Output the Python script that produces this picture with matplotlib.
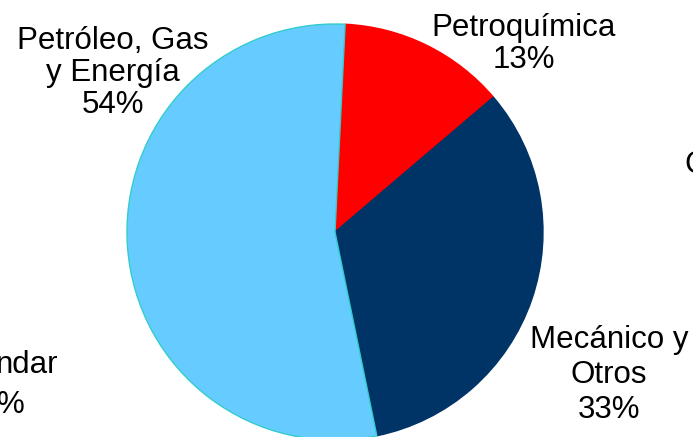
import matplotlib.pyplot as plt

# sector shares (%)
sectores = ['Petroquímica', 'Mecánico y\nOtros', 'Petróleo, Gas\ny Energía']
valores = [13, 33, 54]
colores = ['#FF0000', '#003366', '#66CCFF']
bordes = ['#FF0000', '#003366', '#33CCCC']

plt.rcParams['font.family'] = ['Liberation Sans', 'DejaVu Sans']

fig = plt.figure(figsize=(6.93, 4.37), dpi=100)
ax = fig.add_axes([0, 0, 1, 1])

wedges, _ = ax.pie(valores, colors=colores, startangle=87.2, counterclock=False,
                   center=(335, 205), radius=208, frame=True,
                   wedgeprops=dict(linewidth=1.0))
for w, c in zip(wedges, bordes):
    w.set_edgecolor(c)
ax.set_xlim(0, 693)
ax.set_ylim(0, 437)
ax.set_aspect('equal')
ax.axis('off')

# labels placed where the original puts them
pos = [(524, 393), (609, 62), (113, 364)]
espaciado = [1.08, 1.2, 1.08]
for s, v, (x, y), ls in zip(sectores, valores, pos, espaciado):
    ax.text(x, y, f'{s}\n{v}%', ha='center', va='center', fontsize=22.5,
            linespacing=ls)

# labels of neighbouring charts, cut by the frame
ax.text(58, 72, 'ndar', ha='right', va='center', fontsize=22.5)
ax.text(25, 32, '%', ha='right', va='center', fontsize=22.5)
ax.text(684, 272, 'C', ha='left', va='center', fontsize=22.5)

fig.savefig('out.png', dpi=100)
